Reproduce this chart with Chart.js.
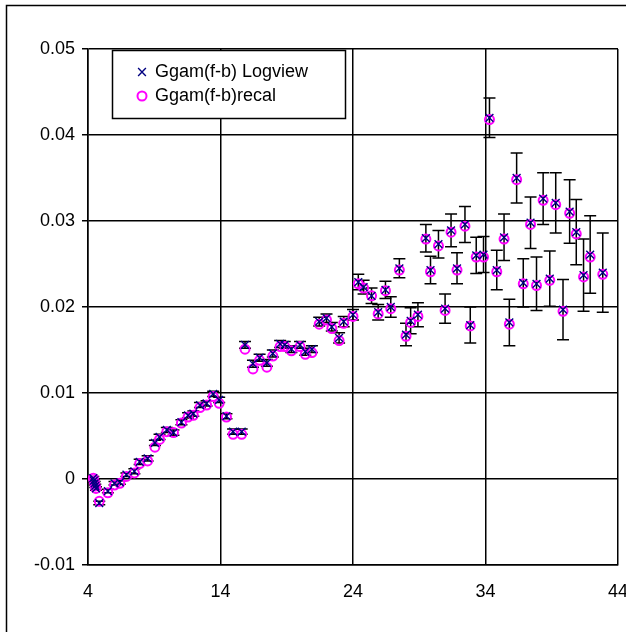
<!DOCTYPE html>
<html>
<head>
<meta charset="utf-8">
<script src="https://cdn.jsdelivr.net/npm/chart.js@4.4.1/dist/chart.umd.min.js"></script>
<style>
    html, body { margin: 0; padding: 0; background: #fff; }
    #wrap { width: 626px; height: 632px; }
</style>
</head>
<body>
<div id="wrap"><canvas id="myChart" width="626" height="632"></canvas></div>
<script>
// energy points (x) and the two Ggam(f-b) evaluations
const xValues = [
    4.40, 4.45, 4.50, 4.55, 4.60, 4.85, 5.50, 6.00, 6.40, 6.90,
    7.50, 7.90, 8.50, 9.05, 9.40, 9.95, 10.45, 11.05, 11.55, 11.95,
    12.45, 12.95, 13.45, 13.90, 14.45, 14.95, 15.60, 15.85, 16.45, 16.95,
    17.50, 17.95, 18.50, 18.85, 19.35, 20.00, 20.40, 20.90, 21.45, 22.00,
    22.40, 22.95, 23.30, 24.00, 24.40, 24.80, 25.40, 25.90, 26.45, 26.85,
    27.50, 28.00, 28.35, 28.90, 29.50, 29.85, 30.45, 30.95, 31.40, 31.85,
    32.45, 32.85, 33.30, 33.85, 34.30, 34.85, 35.40, 35.80, 36.35, 36.85,
    37.40, 37.85, 38.35, 38.85, 39.30, 39.85, 40.35, 40.85, 41.40, 41.90,
    42.85
]
const logview = [
    0.0001, -0.0002, -0.0005, -0.0008, -0.0011, -0.0028, -0.0014, -0.0005, -0.0004, 0.0005,
    0.0009, 0.0020, 0.0024, 0.0042, 0.0049, 0.0057, 0.0054, 0.0066, 0.0074, 0.0076,
    0.0086, 0.0088, 0.0099, 0.0092, 0.0073, 0.0055, 0.0055, 0.0156, 0.0134, 0.0141,
    0.0135, 0.0146, 0.0157, 0.0156, 0.0151, 0.0156, 0.0148, 0.0151, 0.0183, 0.0187,
    0.0177, 0.0164, 0.0183, 0.0191, 0.0229, 0.0223, 0.0213, 0.0194, 0.0220, 0.0200,
    0.0245, 0.0168, 0.0184, 0.0191, 0.0280, 0.0243, 0.0273, 0.0198, 0.0289, 0.0245,
    0.0296, 0.0179, 0.0260, 0.0261, 0.0420, 0.0243, 0.0281, 0.0182, 0.0350, 0.0228,
    0.0298, 0.0227, 0.0326, 0.0233, 0.0321, 0.0197, 0.0311, 0.0287, 0.0237, 0.0261,
    0.0240
]
const logviewErr = [
    0.0002, 0.0002, 0.0002, 0.0002, 0.0002, 0.0002, 0.0002, 0.0002, 0.0002, 0.0002,
    0.0003, 0.0003, 0.0003, 0.0003, 0.0003, 0.0003, 0.0003, 0.0003, 0.0003, 0.0003,
    0.0003, 0.0003, 0.0003, 0.0003, 0.0003, 0.0003, 0.0003, 0.0004, 0.0004, 0.0004,
    0.0004, 0.0004, 0.0004, 0.0004, 0.0004, 0.0004, 0.0004, 0.0004, 0.0005, 0.0005,
    0.0005, 0.0006, 0.0006, 0.0006, 0.0009, 0.0008, 0.0009, 0.0009, 0.0010, 0.0012,
    0.0011, 0.0013, 0.0015, 0.0014, 0.0016, 0.0016, 0.0016, 0.0017, 0.0019, 0.0018,
    0.0021, 0.0021, 0.0021, 0.0021, 0.0023, 0.0023, 0.0027, 0.0027, 0.0029, 0.0028,
    0.0030, 0.0031, 0.0030, 0.0032, 0.0035, 0.0035, 0.0037, 0.0038, 0.0042, 0.0045,
    0.0046
]
const recal = [
    0.0001, -0.0002, -0.0005, -0.0008, -0.0011, -0.0026, -0.0016, -0.0007, -0.0005, 0.0003,
    0.0007, 0.0018, 0.0021, 0.0037, 0.0046, 0.0055, 0.0054, 0.0065, 0.0072, 0.0074,
    0.0083, 0.0086, 0.0096, 0.0088, 0.0072, 0.0052, 0.0052, 0.0151, 0.0128, 0.0138,
    0.0130, 0.0143, 0.0154, 0.0154, 0.0149, 0.0154, 0.0145, 0.0147, 0.0180, 0.0185,
    0.0175, 0.0161, 0.0181, 0.0189, 0.0227, 0.0222, 0.0213, 0.0192, 0.0219, 0.0198,
    0.0243, 0.0166, 0.0182, 0.0189, 0.0279, 0.0241, 0.0271, 0.0196, 0.0287, 0.0243,
    0.0294, 0.0178, 0.0258, 0.0258, 0.0418, 0.0241, 0.0279, 0.0180, 0.0348, 0.0227,
    0.0296, 0.0225, 0.0324, 0.0231, 0.0319, 0.0195, 0.0309, 0.0285, 0.0235, 0.0258,
    0.0238
]
const seriesNames = ['Ggam(f-b) Logview', 'Ggam(f-b)recal']

const FONT = '"Liberation Sans", Arial, sans-serif'

// white page with the thin outer frame
const framePlugin = {
    id: 'frame',
    beforeDraw(chart) {
        const ctx = chart.ctx
        ctx.save()
        ctx.fillStyle = '#fff'
        ctx.fillRect(0, 0, chart.width, chart.height)
        ctx.strokeStyle = '#000'
        ctx.lineWidth = 1.5
        ctx.strokeRect(6.5, 5.5, chart.width + 20, chart.height + 20)
        ctx.restore()
    }
}

// vertical error bars with caps on the Logview series
const errorBarPlugin = {
    id: 'errorBars',
    beforeDatasetsDraw(chart) {
        const ctx = chart.ctx
        const xs = chart.scales.x
        const ys = chart.scales.y
        ctx.save()
        ctx.strokeStyle = '#000'
        ctx.lineWidth = 1.5
        xValues.forEach((xv, i) => {
            const px = xs.getPixelForValue(xv)
            const top = ys.getPixelForValue(logview[i] + logviewErr[i])
            const bot = ys.getPixelForValue(logview[i] - logviewErr[i])
            ctx.beginPath()
            ctx.moveTo(px, top)
            ctx.lineTo(px, bot)
            ctx.moveTo(px - 6, top)
            ctx.lineTo(px + 6, top)
            ctx.moveTo(px - 6, bot)
            ctx.lineTo(px + 6, bot)
            ctx.stroke()
        })
        ctx.restore()
    }
}

// boxed legend in the upper left of the plot
const boxLegendPlugin = {
    id: 'boxLegend',
    afterDraw(chart) {
        const ctx = chart.ctx
        const left = 112, top = 50, w = 233, h = 68
        ctx.save()
        ctx.fillStyle = '#fff'
        ctx.fillRect(left, top, w, h)
        ctx.strokeStyle = '#000'
        ctx.lineWidth = 1.5
        ctx.strokeRect(left + 0.5, top + 0.5, w, h)
        chart.data.datasets.forEach((ds, i) => {
            const cy = top + 22 + i * 24
            ctx.strokeStyle = ds.borderColor
            ctx.fillStyle = 'rgba(0,0,0,0)'
            ctx.lineWidth = ds.pointBorderWidth
            Chart.helpers.drawPoint(ctx, {
                pointStyle: ds.pointStyle,
                radius: i === 0 ? 5.5 : 4.5,
                borderWidth: ds.pointBorderWidth,
                rotation: 0
            }, 142, cy)
            ctx.fillStyle = '#000'
            ctx.font = '18px ' + FONT
            ctx.textBaseline = 'middle'
            ctx.textAlign = 'left'
            ctx.fillText(ds.label, 155, cy)
        })
        ctx.restore()
    }
}

const ctx = document.getElementById('myChart').getContext('2d')
const myChart = new Chart(ctx, {
    type: 'scatter',
    data: {
        datasets: [{
            label: seriesNames[0],
            data: xValues.map((x, i) => ({ x: x, y: logview[i] })),
            pointStyle: 'crossRot',
            pointRadius: 5.5,
            pointBorderWidth: 1.4,
            borderColor: '#000080',
            backgroundColor: '#000080'
        }, {
            label: seriesNames[1],
            data: xValues.map((x, i) => ({ x: x, y: recal[i] })),
            pointStyle: 'circle',
            pointRadius: 4.5,
            pointBorderWidth: 2,
            borderColor: '#ff00ff',
            backgroundColor: 'rgba(0,0,0,0)'
        }]
    },
    options: {
        responsive: false,
        animation: false,
        layout: { padding: { top: 49, right: 8, left: 0, bottom: 0 } },
        plugins: {
            legend: { display: false },
            tooltip: { enabled: false }
        },
        scales: {
            x: {
                type: 'linear',
                min: 4,
                max: 44,
                afterFit: scale => {
                    scale.height = 67
                    scale.paddingLeft = 0
                    scale.paddingRight = 0
                },
                ticks: {
                    stepSize: 10,
                    color: '#000',
                    padding: 16,
                    maxRotation: 0,
                    font: { family: FONT, size: 18 }
                },
                grid: { color: '#000', lineWidth: 1.5, drawTicks: false },
                border: { color: '#000', width: 1.5 }
            },
            y: {
                min: -0.01,
                max: 0.05,
                afterFit: scale => {
                    scale.width = 88
                    scale.paddingTop = 0
                    scale.paddingBottom = 0
                },
                ticks: {
                    stepSize: 0.01,
                    color: '#000',
                    padding: 7,
                    font: { family: FONT, size: 18 },
                    callback: v => String(parseFloat(v.toFixed(2)))
                },
                grid: { color: '#000', lineWidth: 1.5, tickLength: 6 },
                border: { color: '#000', width: 1.5 }
            }
        }
    },
    plugins: [framePlugin, errorBarPlugin, boxLegendPlugin]
})
</script>
</body>
</html>
